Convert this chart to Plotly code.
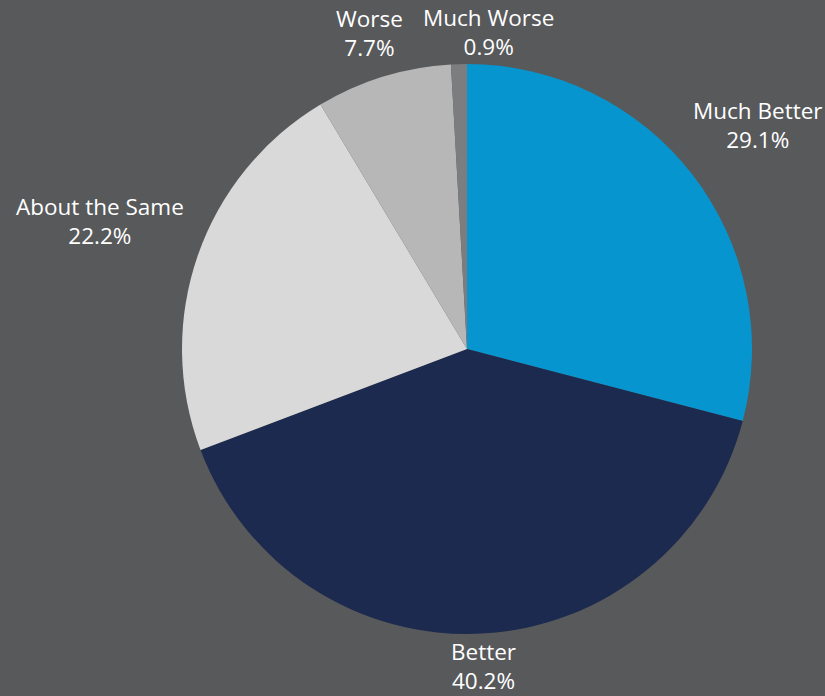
import math
import plotly.graph_objects as go

categories = ["Much Better", "Better", "About the Same", "Worse", "Much Worse"]
shares = [29.1, 40.2, 22.2, 7.7, 0.9]
colors = ["#0795d0", "#1b2a4e", "#d9d9d9", "#b6b7b6", "#7c7d7e"]

# label placement: distance from centre (in radii) and sideways pixel nudge
label_dist = [1.288, 1.115, 1.365, 1.16, 1.112]
label_xshift = [0, 0, 0, 0, 30]

FONT = dict(family="Open Sans", size=22.5, color="#ffffff")

fig = go.Figure(
    go.Pie(
        labels=categories,
        values=shares,
        sort=False,
        direction="clockwise",
        rotation=0,
        marker=dict(colors=colors, line=dict(width=0)),
        textinfo="none",
        hoverinfo="label+percent",
        showlegend=False,
        domain=dict(x=[0, 1], y=[0, 1]),
    )
)

total = sum(shares)
cum = 0.0
annotations = []
for name, v, f, xs in zip(categories, shares, label_dist, label_xshift):
    theta = 2 * math.pi * (cum + v / 2) / total
    cum += v
    annotations.append(
        dict(
            x=0.5 + 0.5 * f * math.sin(theta),
            y=0.5 + 0.5 * f * math.cos(theta),
            xref="paper", yref="paper",
            text=f"{name}<br>{v:.1f}%", showarrow=False,
            xanchor="center", yanchor="middle", align="center",
            xshift=xs, borderpad=0,
            font=FONT,
        )
    )

fig.update_layout(
    width=825,
    height=696,
    paper_bgcolor="#58595b",
    plot_bgcolor="#58595b",
    margin=dict(l=182, r=73, t=64, b=62, autoexpand=False),
    annotations=annotations,
)

fig.write_html("out.html")
